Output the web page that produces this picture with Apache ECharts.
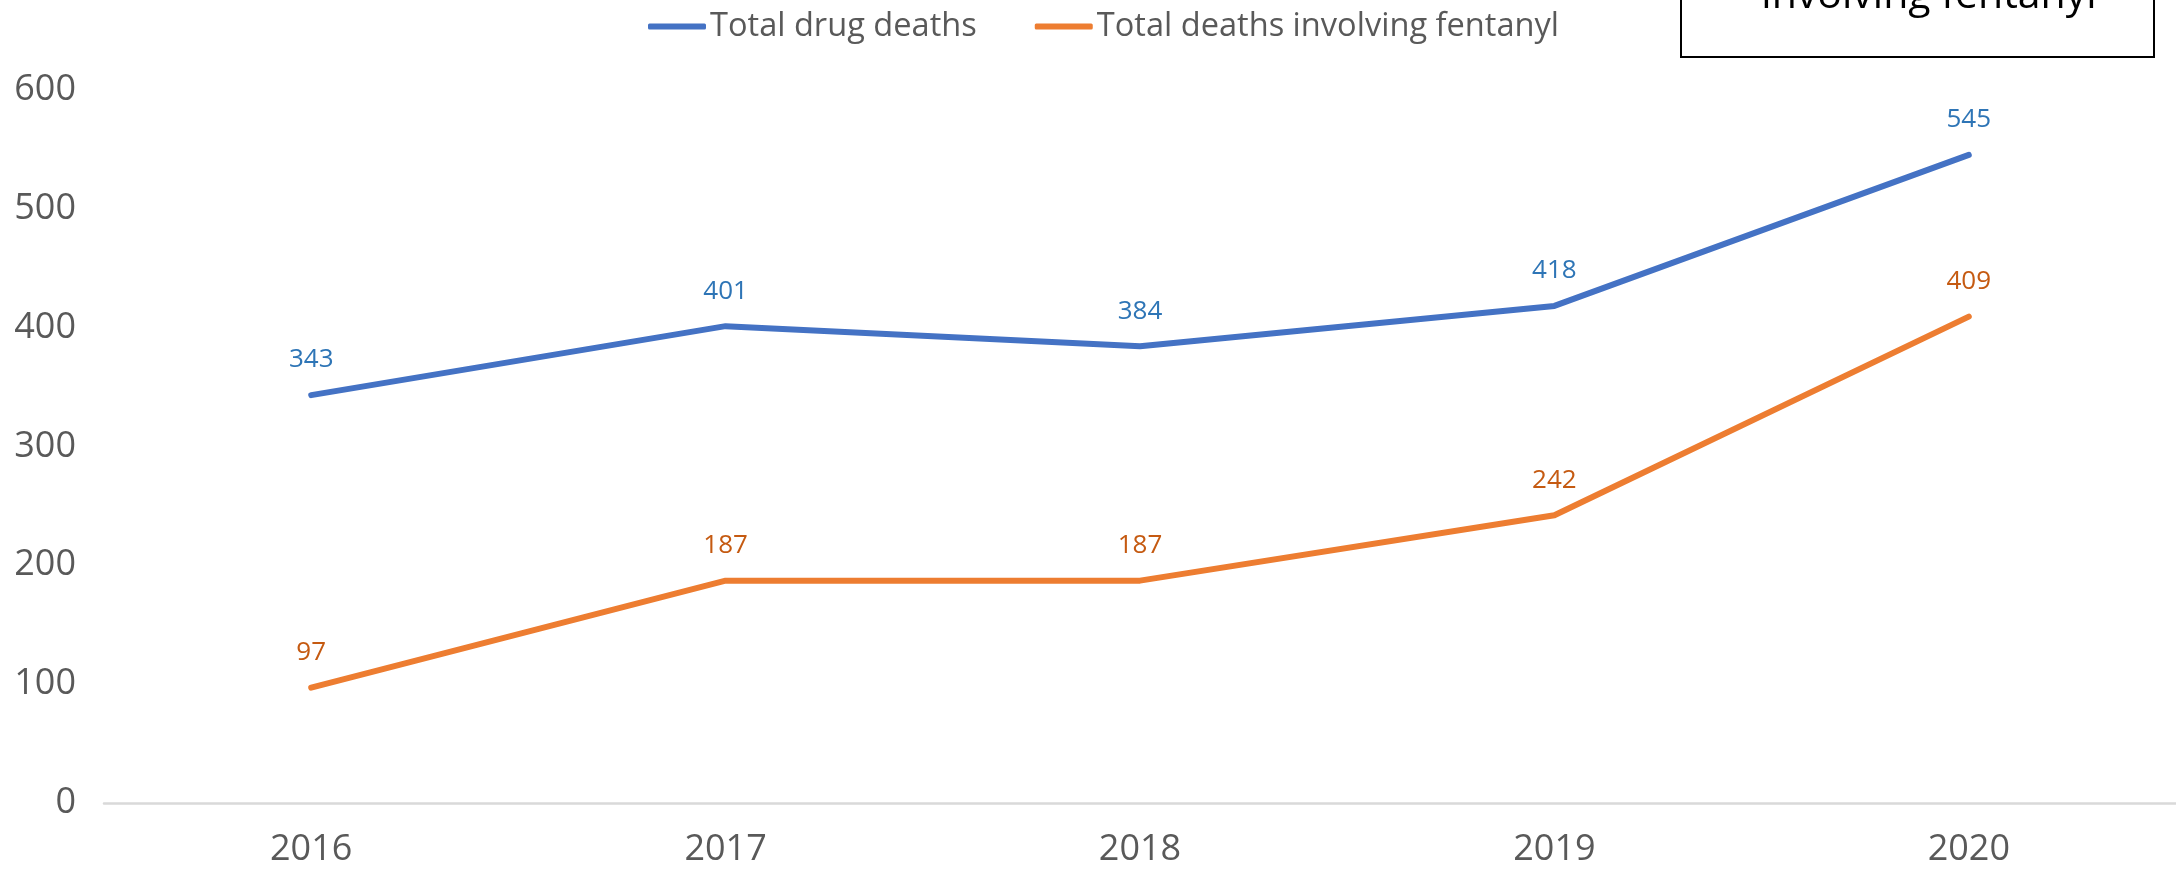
<!DOCTYPE html>
<html><head><meta charset="utf-8">
<script src="https://cdn.jsdelivr.net/npm/echarts@6/dist/echarts.min.js"></script>
<style>html,body{margin:0;padding:0;background:#fff}#c{width:2176px;height:869px}</style>
</head><body><div id="c"></div>
<script>
const years = ['2016','2017','2018','2019','2020'];
const totalDrugDeaths = [343, 401, 384, 418, 545];
const fentanylDeaths = [97, 187, 187, 242, 409];
const yTicks = [0, 100, 200, 300, 400, 500, 600];
const seriesNames = ['Total drug deaths', 'Total deaths involving fentanyl'];
const boxText = 'involving fentanyl';

const chart = echarts.init(document.getElementById('c'), null, {renderer:'canvas'});
const font = '"Open Sans", "DejaVu Sans", sans-serif';
chart.setOption({
  animation:false,
  backgroundColor:'#ffffff',
  textStyle:{fontFamily:font},
  grid:{left:104, right:0, top:89.5, bottom:66, containLabel:false},
  legend:{
    left:643, top:5, itemWidth:58, itemHeight:6, itemGap:58,
    icon:'roundRect',
    textStyle:{fontSize:32.6, color:'#595959', fontFamily:font, padding:[0,0,0,-1]},
    data:seriesNames
  },
  xAxis:{
    type:'category', data:years, boundaryGap:true,
    axisLine:{show:true, lineStyle:{color:'#D9D9D9', width:2.5}},
    axisTick:{show:false},
    axisLabel:{fontSize:36, color:'#595959', margin:29, fontFamily:font}
  },
  yAxis:{
    type:'value', min:yTicks[0], max:yTicks[yTicks.length-1], interval:100,
    splitLine:{show:false}, axisLine:{show:false}, axisTick:{show:false},
    axisLabel:{fontSize:36, color:'#595959', margin:28, fontFamily:font}
  },
  series:[
    {name:seriesNames[0], type:'line', data:totalDrugDeaths, showSymbol:true, symbol:'circle', symbolSize:0.1,
     lineStyle:{color:'#4472C4', width:6, cap:'round', join:'round'}, itemStyle:{color:'#4472C4'},
     label:{show:true, position:'top', distance:22, fontSize:26, color:'#2E75B6', fontFamily:font}},
    {name:seriesNames[1], type:'line', data:fentanylDeaths, showSymbol:true, symbol:'circle', symbolSize:0.1,
     lineStyle:{color:'#ED7D31', width:6, cap:'round', join:'round'}, itemStyle:{color:'#ED7D31'},
     label:{show:true, position:'top', distance:22, fontSize:26, color:'#C55A11', fontFamily:font}}
  ],
  graphic:[
    {type:'rect', shape:{x:1681, y:-10, width:473, height:67},
     style:{fill:'#ffffff', stroke:'#000000', lineWidth:2}, z:10},
    {type:'text', x:1929, y:-4, z:11,
     style:{text:boxText, fontSize:41, fill:'#000000', fontFamily:font, align:'center', verticalAlign:'middle'}}
  ]
});
</script></body></html>
